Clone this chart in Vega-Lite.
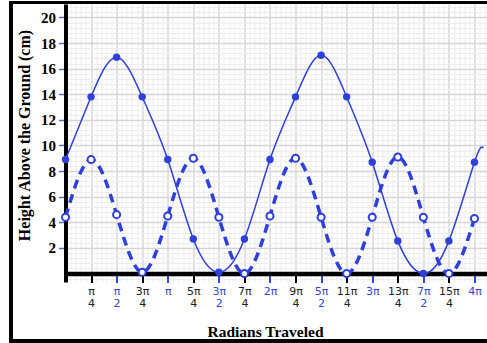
{
  "$schema": "https://vega.github.io/schema/vega-lite/v6.json",
  "autosize": {"type": "none"},
  "padding": {"left": 65.5, "top": 4, "right": 0, "bottom": 61},
  "width": 421.5,
  "height": 278,
  "background": "white",
  "config": {"view": {"stroke": null}, "axis": {"labelOverlap": false, "labelBound": false, "labelFlush": false}},
  "data": {
    "values": [
      {"u": 0, "height": 8.9, "series": "solid"},
      {"u": 1, "height": 13.8, "series": "solid"},
      {"u": 2, "height": 16.9, "series": "solid"},
      {"u": 3, "height": 13.8, "series": "solid"},
      {"u": 4, "height": 8.9, "series": "solid"},
      {"u": 5, "height": 2.7, "series": "solid"},
      {"u": 6, "height": 0.1, "series": "solid"},
      {"u": 7, "height": 2.7, "series": "solid"},
      {"u": 8, "height": 8.9, "series": "solid"},
      {"u": 9, "height": 13.8, "series": "solid"},
      {"u": 10, "height": 17.05, "series": "solid"},
      {"u": 11, "height": 13.8, "series": "solid"},
      {"u": 12, "height": 8.7, "series": "solid"},
      {"u": 13, "height": 2.55, "series": "solid"},
      {"u": 14, "height": 0, "series": "solid"},
      {"u": 15, "height": 2.55, "series": "solid"},
      {"u": 16, "height": 8.7, "series": "solid"},
      {"u": 16.35, "height": 9.8, "series": "solid"},
      {"u": 0, "height": 4.4, "series": "dashed"},
      {"u": 1, "height": 8.9, "series": "dashed"},
      {"u": 2, "height": 4.6, "series": "dashed"},
      {"u": 3, "height": 0.1, "series": "dashed"},
      {"u": 4, "height": 4.5, "series": "dashed"},
      {"u": 5, "height": 9.0, "series": "dashed"},
      {"u": 6, "height": 4.4, "series": "dashed"},
      {"u": 7, "height": 0, "series": "dashed"},
      {"u": 8, "height": 4.5, "series": "dashed"},
      {"u": 9, "height": 9.0, "series": "dashed"},
      {"u": 10, "height": 4.4, "series": "dashed"},
      {"u": 11, "height": 0, "series": "dashed"},
      {"u": 12, "height": 4.4, "series": "dashed"},
      {"u": 13, "height": 9.1, "series": "dashed"},
      {"u": 14, "height": 4.4, "series": "dashed"},
      {"u": 15, "height": 0, "series": "dashed"},
      {"u": 16, "height": 4.3, "series": "dashed"}
    ]
  },
  "layer": [
    {
      "mark": {"type": "rect", "filled": false, "color": "black", "strokeWidth": 2.5, "clip": false},
      "encoding": {
        "x": {"datum": -2.13, "type": "quantitative", "title": "Radians Traveled"},
        "x2": {"datum": 16.9},
        "y": {"datum": 21.15, "type": "quantitative", "title": "Height Above the Ground (cm)"},
        "y2": {"datum": -5.27}
      }
    },
    {
      "transform": [{"filter": "datum.series == 'dashed'"}],
      "mark": {"type": "line", "interpolate": "natural", "color": "#2f3fd9", "strokeWidth": 3.5, "strokeDash": [9, 6]},
      "encoding": {
        "x": {
          "field": "u", "type": "quantitative", "title": "Radians Traveled",
          "scale": {"domain": [0, 16.49], "nice": false, "zero": false},
          "axis": {
            "orient": "bottom",
            "offset": -8.5,
            "tickCount": 300,
            "values": [0,0.2,0.4,0.6,0.8,1,1.2,1.4,1.6,1.8,2,2.2,2.4,2.6,2.8,3,3.2,3.4,3.6,3.8,4,4.2,4.4,4.6,4.8,5,5.2,5.4,5.6,5.8,6,6.2,6.4,6.6,6.8,7,7.2,7.4,7.6,7.8,8,8.2,8.4,8.6,8.8,9,9.2,9.4,9.6,9.8,10,10.2,10.4,10.6,10.8,11,11.2,11.4,11.6,11.8,12,12.2,12.4,12.6,12.8,13,13.2,13.4,13.6,13.8,14,14.2,14.4,14.6,14.8,15,15.2,15.4,15.6,15.8,16,16.2,16.4],
            "grid": true,
            "gridColor": {"condition": {"test": "datum.value % 1 == 0", "value": "#d6d6d6"}, "value": "#ededed"},
            "gridWidth": {"condition": {"test": "datum.value % 1 == 0", "value": 1.5}, "value": 1},
            "domain": true,
            "domainColor": "black",
            "domainWidth": 4.5,
            "ticks": true,
            "tickSize": 9,
            "tickWidth": 2,
            "tickColor": {"condition": {"test": "datum.value % 2 == 0", "value": "#3346d6"}, "value": "black"},
            "tickOpacity": {"condition": {"test": "datum.value % 1 == 0 && datum.value > 0", "value": 1}, "value": 0},
            "labelOverlap": false,
            "labelFlush": false,
            "labelFont": "DejaVu Sans",
            "labelFontSize": 11,
            "labelLineHeight": 12,
            "labelPadding": 3,
            "labelColor": {"condition": {"test": "datum.value % 2 == 0", "value": "#3346d6"}, "value": "#222222"},
            "labelExpr": "(datum.value % 1 != 0 || datum.value <= 0) ? '' : (datum.value % 4 == 0 ? (datum.value == 4 ? 'π' : (datum.value / 4) + 'π') : (datum.value % 2 == 0 ? [(datum.value == 2 ? '' : (datum.value / 2)) + 'π', '2'] : [(datum.value == 1 ? '' : datum.value) + 'π', '4']))",
            "titleFont": "Liberation Serif",
            "titleFontWeight": "bold",
            "titleFontSize": 15.5,
            "titleColor": "black",
            "titleX": 199.5,
            "titleY": 62.5,
            "titleBaseline": "alphabetic",
            "titleAlign": "center"
          }
        },
        "y": {
          "field": "height", "type": "quantitative", "title": "Height Above the Ground (cm)",
          "scale": {"domain": [-0.66, 21.05], "nice": false, "zero": false},
          "axis": {
            "orient": "left",
            "tickCount": 300,
            "values": [-0.4,0,0.4,0.8,1.2,1.6,2,2.4,2.8,3.2,3.6,4,4.4,4.8,5.2,5.6,6,6.4,6.8,7.2,7.6,8,8.4,8.8,9.2,9.6,10,10.4,10.8,11.2,11.6,12,12.4,12.8,13.2,13.6,14,14.4,14.8,15.2,15.6,16,16.4,16.8,17.2,17.6,18,18.4,18.8,19.2,19.6,20,20.4,20.8],
            "grid": true,
            "gridColor": {"condition": {"test": "datum.value % 2 == 0", "value": "#d6d6d6"}, "value": "#ededed"},
            "gridWidth": {"condition": {"test": "datum.value % 2 == 0", "value": 1.5}, "value": 1},
            "domain": true,
            "domainColor": "black",
            "domainWidth": 4,
            "ticks": true,
            "tickSize": 7,
            "tickWidth": 1.5,
            "tickColor": "#5a6ad0",
            "tickOpacity": {"condition": {"test": "datum.value % 2 == 0 && datum.value > 0", "value": 1}, "value": 0},
            "labelOverlap": false,
            "labelFont": "Liberation Serif",
            "labelFontWeight": "bold",
            "labelFontSize": 15,
            "labelColor": "black",
            "labelPadding": 3,
            "labelExpr": "(datum.value > 0 && datum.value % 2 == 0) ? datum.value + '' : ''",
            "titleFont": "Liberation Serif",
            "titleFontWeight": "bold",
            "titleFontSize": 16,
            "titleColor": "black",
            "titleX": -33,
            "titleY": 131,
            "titleAngle": 270,
            "titleBaseline": "bottom",
            "titleAlign": "center"
          }
        }
      }
    },
    {
      "transform": [{"filter": "datum.series == 'solid'"}],
      "mark": {"type": "line", "interpolate": "natural", "color": "#2f3fd9", "strokeWidth": 1.5},
      "encoding": {
        "x": {"field": "u", "type": "quantitative", "title": "Radians Traveled"},
        "y": {"field": "height", "type": "quantitative", "title": "Height Above the Ground (cm)"}
      }
    },
    {
      "transform": [{"filter": "datum.series == 'solid' && datum.u <= 16"}],
      "mark": {"type": "point", "filled": true, "color": "#2f3fd9", "size": 55, "opacity": 1},
      "encoding": {
        "x": {"field": "u", "type": "quantitative", "title": "Radians Traveled"},
        "y": {"field": "height", "type": "quantitative", "title": "Height Above the Ground (cm)"}
      }
    },
    {
      "transform": [{"filter": "datum.series == 'dashed'"}],
      "mark": {"type": "point", "filled": true, "fill": "white", "stroke": "#2f3fd9", "strokeWidth": 2, "size": 50, "opacity": 1},
      "encoding": {
        "x": {"field": "u", "type": "quantitative", "title": "Radians Traveled"},
        "y": {"field": "height", "type": "quantitative", "title": "Height Above the Ground (cm)"}
      }
    }
  ]
}
